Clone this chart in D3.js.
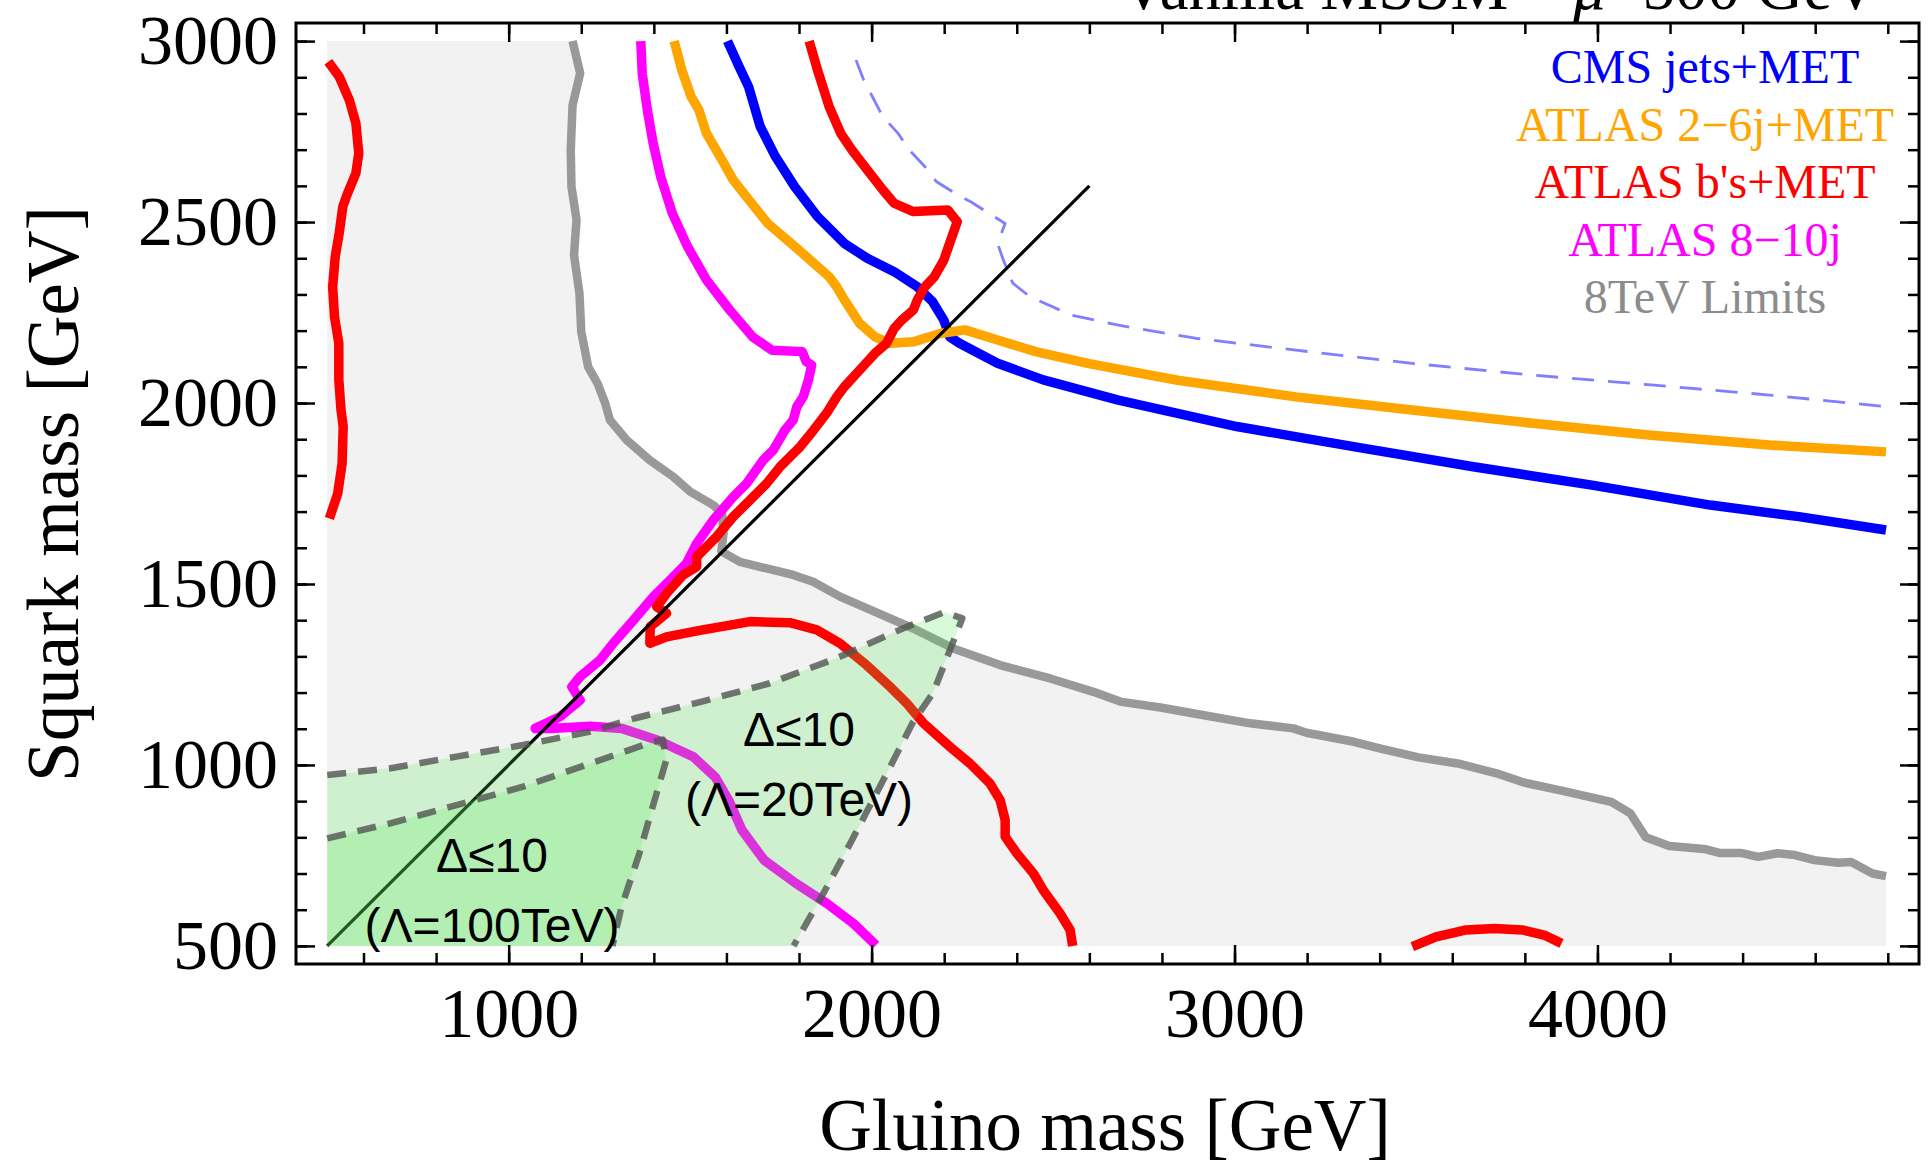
<!DOCTYPE html>
<meta charset="utf-8">
<style>
  body { margin: 0; background: #fff; }
  svg { display: block; }
</style>

<div id="chart"></div>

<script src="https://cdn.jsdelivr.net/npm/d3@7"></script>
<script>

var width = 1928, height = 1168;

// all curves: [gluino mass, squark mass] in GeV
var limit8TeV = [[1176,3000],[1197,2911],[1176,2823],[1171,2699],[1173,2598],[1187,2506],[1180,2409],[1195,2303],
  [1200,2197],[1219,2100],[1245,2054],[1266,1999],[1279,1953],[1325,1898],[1389,1842],[1454,1796],[1500,1755],
  [1564,1718],[1588,1695],[1592,1640],[1586,1590],[1637,1561],[1711,1543],[1784,1525],[1839,1506],[1913,1465],
  [2005,1425],[2115,1377],[2225,1322],[2354,1276],[2492,1239],[2611,1202],[2685,1175],[2800,1158],[2900,1140],
  [3043,1115],[3162,1101],[3198,1089],[3329,1064],[3400,1046],[3507,1021],[3615,1004],[3722,977],[3799,951],
  [3901,929],[4038,898],[4091,866],[4133,800],[4198,776],[4294,768],[4336,757],[4395,757],[4443,746],[4496,756],
  [4544,751],[4598,737],[4663,730],[4699,732],[4758,700],[4795,693]];

var cmsJets = [[1603,3000],[1635,2929],[1661,2874],[1693,2764],[1735,2681],[1788,2598],[1851,2515],[1925,2441],
  [1988,2400],[2062,2363],[2126,2321],[2168,2280],[2199,2229],[2215,2183],[2242,2165],[2347,2110],[2473,2064],
  [2680,2008],[3006,1935],[3332,1879],[3658,1824],[3985,1773],[4311,1718],[4555,1686],[4795,1649]];

var cmsExpected = [[1957,2948],[1978,2893],[2031,2791],[2073,2745],[2104,2699],[2147,2653],[2178,2612],[2231,2579],
  [2273,2556],[2368,2496],[2347,2441],[2363,2395],[2389,2331],[2436,2294],[2550,2243],[2680,2215],[2892,2179],
  [3169,2146],[3495,2109],[3821,2077],[4148,2050],[4474,2022],[4795,1990]];

var atlas26j = [[1456,3000],[1477,2920],[1503,2846],[1524,2810],[1545,2745],[1588,2671],[1619,2616],[1651,2575],
  [1714,2496],[1799,2423],[1883,2349],[1904,2321],[1925,2285],[1967,2220],[2009,2183],[2052,2165],[2115,2169],
  [2189,2192],[2257,2202],[2347,2174],[2452,2142],[2599,2109],[2843,2063],[3169,2017],[3495,1980],[3821,1944],
  [4148,1911],[4474,1884],[4795,1865]];

var atlas810j = [[1364,3000],[1368,2911],[1382,2810],[1398,2718],[1419,2625],[1451,2524],[1493,2432],[1545,2340],
  [1609,2257],[1672,2183],[1725,2146],[1809,2142],[1820,2114],[1835,2105],[1826,2064],[1812,2018],[1794,1990],
  [1784,1953],[1761,1925],[1729,1870],[1702,1843],[1656,1778],[1619,1741],[1564,1677],[1518,1612],[1490,1557],
  [1445,1511],[1399,1465],[1344,1400],[1288,1336],[1252,1290],[1197,1244],[1174,1216],[1197,1179],[1141,1133],
  [1073,1101],[1114,1101],[1225,1107],[1311,1101],[1409,1069],[1508,1023],[1569,967],[1606,903],[1643,820],
  [1704,737],[1791,673],[1877,617],[1950,562],[2012,502]];

var atlasBsMain = [[1828,3000],[1851,2920],[1883,2819],[1915,2745],[1946,2699],[1988,2644],[2031,2589],[2062,2552],
  [2115,2529],[2210,2533],[2236,2501],[2215,2441],[2199,2395],[2173,2349],[2147,2321],[2126,2285],[2115,2257],
  [2083,2229],[2062,2206],[2041,2165],[2009,2137],[1967,2091],[1925,2045],[1904,2017],[1876,1972],[1840,1925],
  [1803,1879],[1748,1824],[1711,1778],[1665,1732],[1619,1686],[1573,1631],[1518,1575],[1518,1548],[1481,1525],
  [1435,1474],[1408,1437],[1435,1419],[1390,1382],[1389,1336],[1435,1354],[1527,1372],[1665,1396],[1775,1393],
  [1849,1373],[1913,1336],[1987,1275],[2051,1216],[2097,1170],[2143,1115],[2216,1050],[2271,1004],[2326,949],
  [2354,903],[2368,848],[2368,802],[2400,756],[2446,700],[2473,654],[2519,590],[2547,544],[2554,500]];

var atlasBsLeft = [[503,2943],[533,2902],[561,2837],[579,2773],[587,2690],[579,2635],[556,2579],[543,2543],
  [533,2469],[522,2404],[515,2321],[520,2239],[532,2165],[532,2064],[538,1981],[544,1935],[541,1833],[529,1750],
  [506,1681]];

var atlasBsLow = [[3490,498],[3555,525],[3638,544],[3716,548],[3793,544],[3853,530],[3901,507]];

var diagonal = [[500,500],[2600,2600]];

var tuning20 = [[500,972],[671,990],[856,1023],[1040,1055],[1225,1092],[1348,1129],[1532,1175],[1717,1225],
  [1901,1294],[2086,1377],[2200,1422],[2250,1405],[2170,1200],[2115,1120],[2042,977],[1941,783],[1867,645],[1785,500]];

var tuning100 = [[500,797],[671,838],[856,889],[1040,940],[1225,1004],[1397,1064],[1425,1070],[1434,1013],
  [1397,885],[1360,755],[1311,608],[1286,500]];

var legendLabels = ["CMS jets+MET", "ATLAS 2\u22126j+MET", "ATLAS b's+MET", "ATLAS 8\u221210j", "8TeV Limits"];
var legendColors = ["#0000ff", "#ffa500", "#ff0000", "#ff00ff", "#8c8c8c"];

var xMajor = [1000, 2000, 3000, 4000];
var xMinor = d3.range(600, 4801, 200);
var yMajor = [500, 1000, 1500, 2000, 2500, 3000];
var yMinor = d3.range(500, 3001, 100);

var x = d3.scaleLinear().domain([414, 4886]).range([296, 1919]);
var y = d3.scaleLinear().domain([450, 3050]).range([964, 23]);

var svg = d3.select("#chart")
  .append("svg")
    .attr("width", width)
    .attr("height", height);

var line = d3.line()
  .x(function(d) { return x(d[0]); })
  .y(function(d) { return y(d[1]); });

// excluded area (8 TeV)
var grayArea = [[500,500],[500,3000]].concat(limit8TeV).concat([[4795,500]]);
svg.append("path")
  .attr("d", line(grayArea) + "Z")
  .attr("fill", "#f2f2f2");

function curve(data, color, w, dash) {
  var p = svg.append("path")
    .attr("d", line(data))
    .attr("fill", "none")
    .attr("stroke", color)
    .attr("stroke-width", w)
    .attr("stroke-linejoin", "round");
  if (dash) p.attr("stroke-dasharray", dash);
  return p;
}

curve(limit8TeV, "#999999", 8.5);
curve(cmsJets, "#0000ff", 9.5);
curve(atlas26j, "#ffa500", 9.5);
curve(atlas810j, "#ff00ff", 9.5);
curve(atlasBsMain, "#ff0000", 9.5);
curve(atlasBsLeft, "#ff0000", 9.5);
curve(atlasBsLow, "#ff0000", 9.5);
curve(cmsExpected, "#7f7fff", 2.8, "22,14");
curve(diagonal, "#000000", 3.2);

// fine tuning regions
svg.append("path")
  .attr("d", line(tuning20.concat([[500,500]])) + "Z")
  .attr("fill", "rgb(80,230,80)")
  .attr("fill-opacity", 0.22);
svg.append("path")
  .attr("d", line(tuning100.concat([[500,500]])) + "Z")
  .attr("fill", "rgb(80,230,80)")
  .attr("fill-opacity", 0.22);
curve(tuning20, "rgba(80,85,80,0.8)", 6.5, "19,12");
curve(tuning100, "rgba(80,85,80,0.8)", 6.5, "19,12");

var lab = svg.append("g")
  .attr("font-family", "'Liberation Sans', Arial, sans-serif")
  .attr("font-size", 48)
  .attr("text-anchor", "middle")
  .attr("fill", "#000");
lab.append("text").attr("x", 799).attr("y", 746).text("\u0394\u226410");
lab.append("text").attr("x", 799).attr("y", 816).text("(\u039b=20TeV)");
lab.append("text").attr("x", 492).attr("y", 872).text("\u0394\u226410");
lab.append("text").attr("x", 492).attr("y", 942).text("(\u039b=100TeV)");

// legend
svg.append("g")
  .attr("font-family", "'Liberation Serif', 'Times New Roman', serif")
  .attr("font-size", 48)
  .attr("text-anchor", "middle")
  .selectAll("text")
  .data(legendLabels)
  .enter()
  .append("text")
    .attr("x", 1705)
    .attr("y", function(d, i) { return 83 + i * 57.5; })
    .attr("fill", function(d, i) { return legendColors[i]; })
    .text(function(d) { return d; });

// frame + ticks
var serif = "'Liberation Serif', 'Times New Roman', serif";

function ticks(axis, tr) {
  var g = svg.append("g").attr("transform", tr).call(axis);
  g.select(".domain").remove();
  g.selectAll(".tick line").attr("stroke", "#000").attr("stroke-width", 2.5);
  g.selectAll("text").attr("font-family", serif).attr("font-size", 70).attr("fill", "#000");
  return g;
}

ticks(d3.axisBottom(x).tickValues(xMinor).tickSize(-11).tickFormat(""), "translate(0,964)");
ticks(d3.axisBottom(x).tickValues(xMajor).tickSize(-19).tickPadding(23).tickFormat(d3.format("d")), "translate(0,964)");
ticks(d3.axisTop(x).tickValues(xMinor).tickSize(-11).tickFormat(""), "translate(0,23)");
ticks(d3.axisTop(x).tickValues(xMajor).tickSize(-19).tickFormat(""), "translate(0,23)");
ticks(d3.axisLeft(y).tickValues(yMinor).tickSize(-11).tickFormat(""), "translate(296,0)");
ticks(d3.axisLeft(y).tickValues(yMajor).tickSize(-19).tickPadding(18).tickFormat(d3.format("d")), "translate(296,0)");
ticks(d3.axisRight(y).tickValues(yMinor).tickSize(-11).tickFormat(""), "translate(1919,0)");
ticks(d3.axisRight(y).tickValues(yMajor).tickSize(-19).tickFormat(""), "translate(1919,0)");

svg.append("rect")
  .attr("x", 296).attr("y", 23)
  .attr("width", 1919 - 296).attr("height", 964 - 23)
  .attr("fill", "none")
  .attr("stroke", "#000")
  .attr("stroke-width", 3);

// axis titles
svg.append("text")
  .attr("x", 1105).attr("y", 1150)
  .attr("text-anchor", "middle")
  .attr("font-family", serif).attr("font-size", 73)
  .text("Gluino mass [GeV]");

svg.append("text")
  .attr("transform", "translate(78,494)rotate(-90)")
  .attr("text-anchor", "middle")
  .attr("font-family", serif).attr("font-size", 73)
  .text("Squark mass [GeV]");

// title, mostly cut off at the top as in the original figure
var title = svg.append("text")
  .attr("x", 1120).attr("y", 9)
  .attr("font-family", serif).attr("font-size", 65);
title.append("tspan").text("Vanilla MSSM \u2013 ");
title.append("tspan").attr("font-style", "italic").text("\u03bc");
title.append("tspan").text("=500 GeV");

</script>
